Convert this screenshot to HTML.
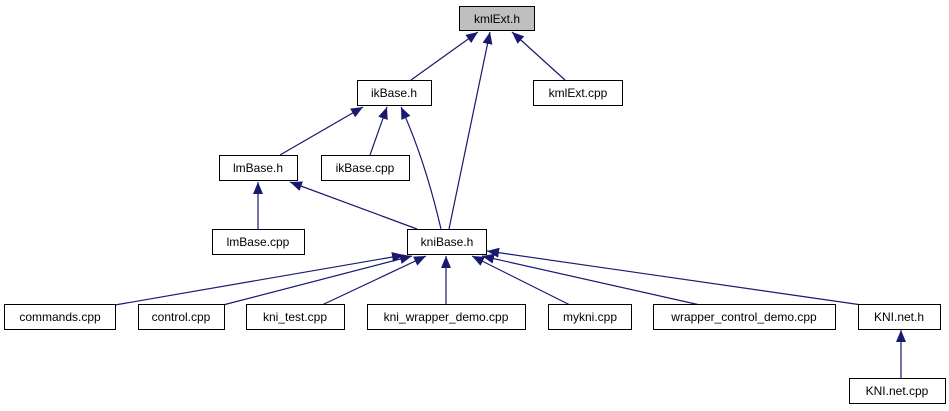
<!DOCTYPE html>
<html><head><style>body{margin:0;background:#fff}svg{display:block}text{font-family:"Liberation Sans",sans-serif;font-size:12px;text-anchor:middle}</style></head><body>
<svg width="949" height="411" viewBox="0 0 949 411">
<defs><marker id="a" markerWidth="12" markerHeight="10" refX="12" refY="5" orient="auto" markerUnits="userSpaceOnUse"><path d="M0,0 L12,5 L0,10 z" fill="#191970"/></marker></defs>
<g stroke="#191970" stroke-width="1.2" fill="none" marker-end="url(#a)">
<line x1="411" y1="80" x2="478" y2="32"/>
<line x1="449" y1="229" x2="490" y2="32"/>
<line x1="565" y1="80" x2="512" y2="32"/>
<line x1="280" y1="155" x2="363" y2="107"/>
<line x1="370" y1="155" x2="387" y2="107"/>
<path d="M441,229 Q425,160 401,107"/>
<line x1="417" y1="229" x2="290" y2="182"/>
<line x1="258" y1="229" x2="258" y2="182"/>
<line x1="115" y1="305" x2="404" y2="255"/>
<line x1="223" y1="305" x2="412" y2="256"/>
<line x1="322" y1="305" x2="426" y2="256"/>
<line x1="446" y1="305" x2="446" y2="256"/>
<line x1="570" y1="305" x2="472" y2="256"/>
<line x1="700" y1="305" x2="482" y2="256"/>
<line x1="862" y1="305" x2="487" y2="251"/>
<line x1="901" y1="378" x2="901" y2="330"/>
</g>
<g stroke="#000" stroke-width="1" fill="#fff">
<rect x="459.5" y="6.5" width="75" height="24" fill="#bfbfbf"/>
<rect x="357.5" y="80.5" width="74" height="25"/>
<rect x="533.5" y="80.5" width="89" height="25"/>
<rect x="219.5" y="155.5" width="78" height="25"/>
<rect x="321.5" y="155.5" width="88" height="25"/>
<rect x="212.5" y="229.5" width="92" height="25"/>
<rect x="407.5" y="229.5" width="79" height="25"/>
<rect x="4.5" y="304.5" width="111" height="25"/>
<rect x="138.5" y="304.5" width="86" height="25"/>
<rect x="246.5" y="304.5" width="98" height="25"/>
<rect x="367.5" y="304.5" width="158" height="25"/>
<rect x="548.5" y="304.5" width="83" height="25"/>
<rect x="653.5" y="304.5" width="182" height="25"/>
<rect x="858.5" y="304.5" width="82" height="25"/>
<rect x="849.5" y="378.5" width="96" height="25"/>
</g>
<g fill="#000">
<text x="497" y="23">kmlExt.h</text>
<text x="394" y="97">ikBase.h</text>
<text x="578" y="97">kmlExt.cpp</text>
<text x="258" y="172">lmBase.h</text>
<text x="365" y="172">ikBase.cpp</text>
<text x="258" y="246">lmBase.cpp</text>
<text x="447" y="246">kniBase.h</text>
<text x="60" y="321">commands.cpp</text>
<text x="181" y="321">control.cpp</text>
<text x="295" y="321">kni_test.cpp</text>
<text x="446" y="321">kni_wrapper_demo.cpp</text>
<text x="590" y="321">mykni.cpp</text>
<text x="744" y="321">wrapper_control_demo.cpp</text>
<text x="899" y="321">KNI.net.h</text>
<text x="897" y="395">KNI.net.cpp</text>
</g>
</svg>
</body></html>
